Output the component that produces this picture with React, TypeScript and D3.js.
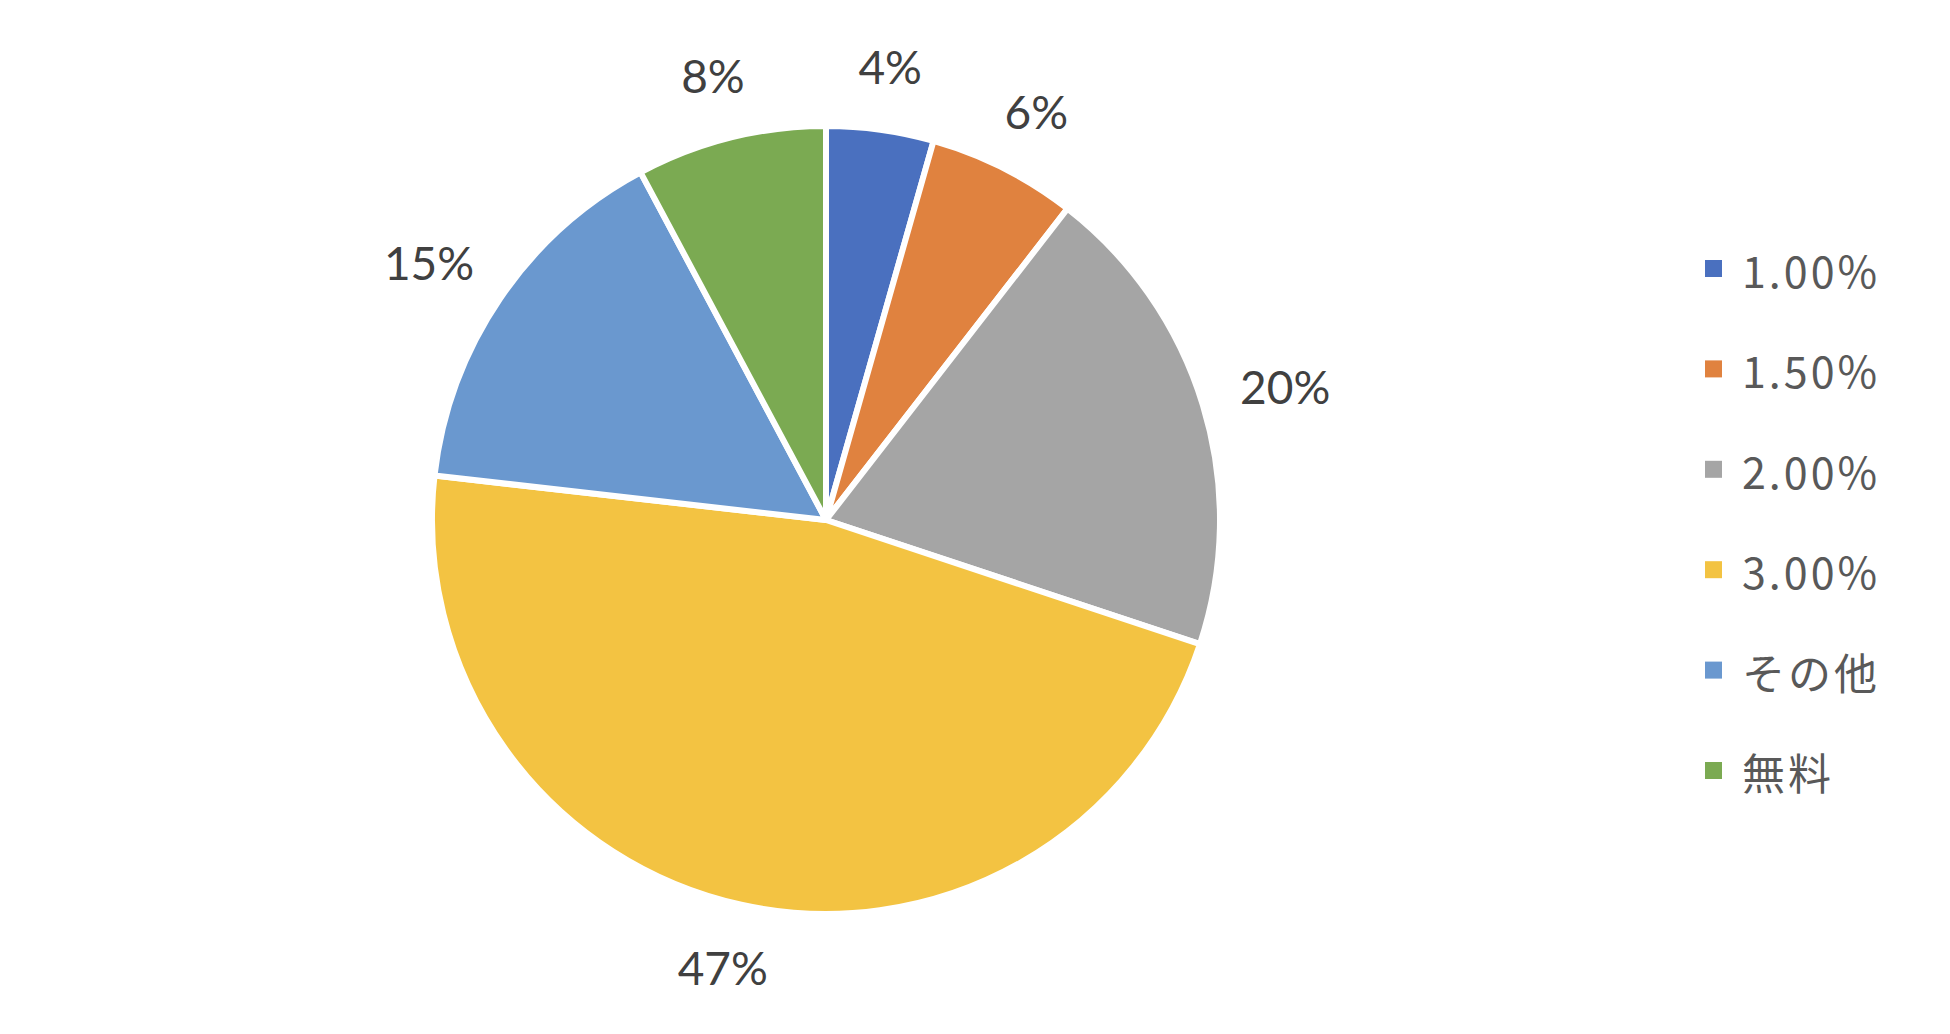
import React from "react";
import * as d3 from "d3";

const categories = ["1.00%", "1.50%", "2.00%", "3.00%", "その他", "無料"];
const values = [4.4, 6.1, 19.6, 46.7, 15.4, 7.8];
const colors = ["#4A70BF", "#E0823F", "#A5A5A5", "#F3C342", "#6A98CF", "#7BAA52"];

const W = 1950;
const H = 1034;
const cx = 826;
const cy = 520;
const radius = 394;
const labelR = 438;

export default function App() {
  const total = d3.sum(values);
  const pie = d3
    .pie<number>()
    .sort(null)
    .value((d) => d);
  const arcs = pie(values);
  const arcGen = d3.arc<d3.PieArcDatum<number>>().innerRadius(0).outerRadius(radius);

  const legendY = d3
    .scalePoint<string>()
    .domain(categories)
    .range([269, 771]);

  return (
    <div style={{ position: "absolute", left: 0, top: 0 }}>
      <svg width={W} height={H} viewBox={`0 0 ${W} ${H}`} style={{ display: "block", background: "#fff" }}>
        <rect width={W} height={H} fill="#fff" />
        <g transform={`translate(${cx},${cy})`}>
          {arcs.map((a, i) => (
            <path key={i} d={arcGen(a) || ""} fill={colors[i]} stroke="#fff" strokeWidth={6} strokeLinejoin="round" />
          ))}
          {arcs.map((a, i) => {
            const mid = (a.startAngle + a.endAngle) / 2;
            const s = Math.sin(mid);
            const c = Math.cos(mid);
            const txt = Math.round((values[i] / total) * 100) + "%";
            const hw = txt.length * 14;
            const hh = 20;
            const x = s * labelR + s * hw;
            const y = -c * labelR - c * hh;
            return (
              <text
                key={"l" + i}
                x={x}
                y={y}
                textAnchor="middle"
                dominantBaseline="central"
                fontFamily="Lato, 'Open Sans', sans-serif"
                fontSize={46}
                fill="#404040"
              >
                {txt}
              </text>
            );
          })}
        </g>
        <g>
          {categories.map((cat, i) => {
            const y = legendY(cat) as number;
            return (
              <g key={cat}>
                <rect x={1705} y={y - 9} width={17} height={17} fill={colors[i]} />
                <text
                  x={1742}
                  y={y}
                  dominantBaseline="central"
                  fontFamily="'Noto Sans CJK JP', 'Noto Sans', sans-serif"
                  fontSize={43}
                  letterSpacing={3}
                  fill="#595959"
                >
                  {cat}
                </text>
              </g>
            );
          })}
        </g>
      </svg>
    </div>
  );
}
